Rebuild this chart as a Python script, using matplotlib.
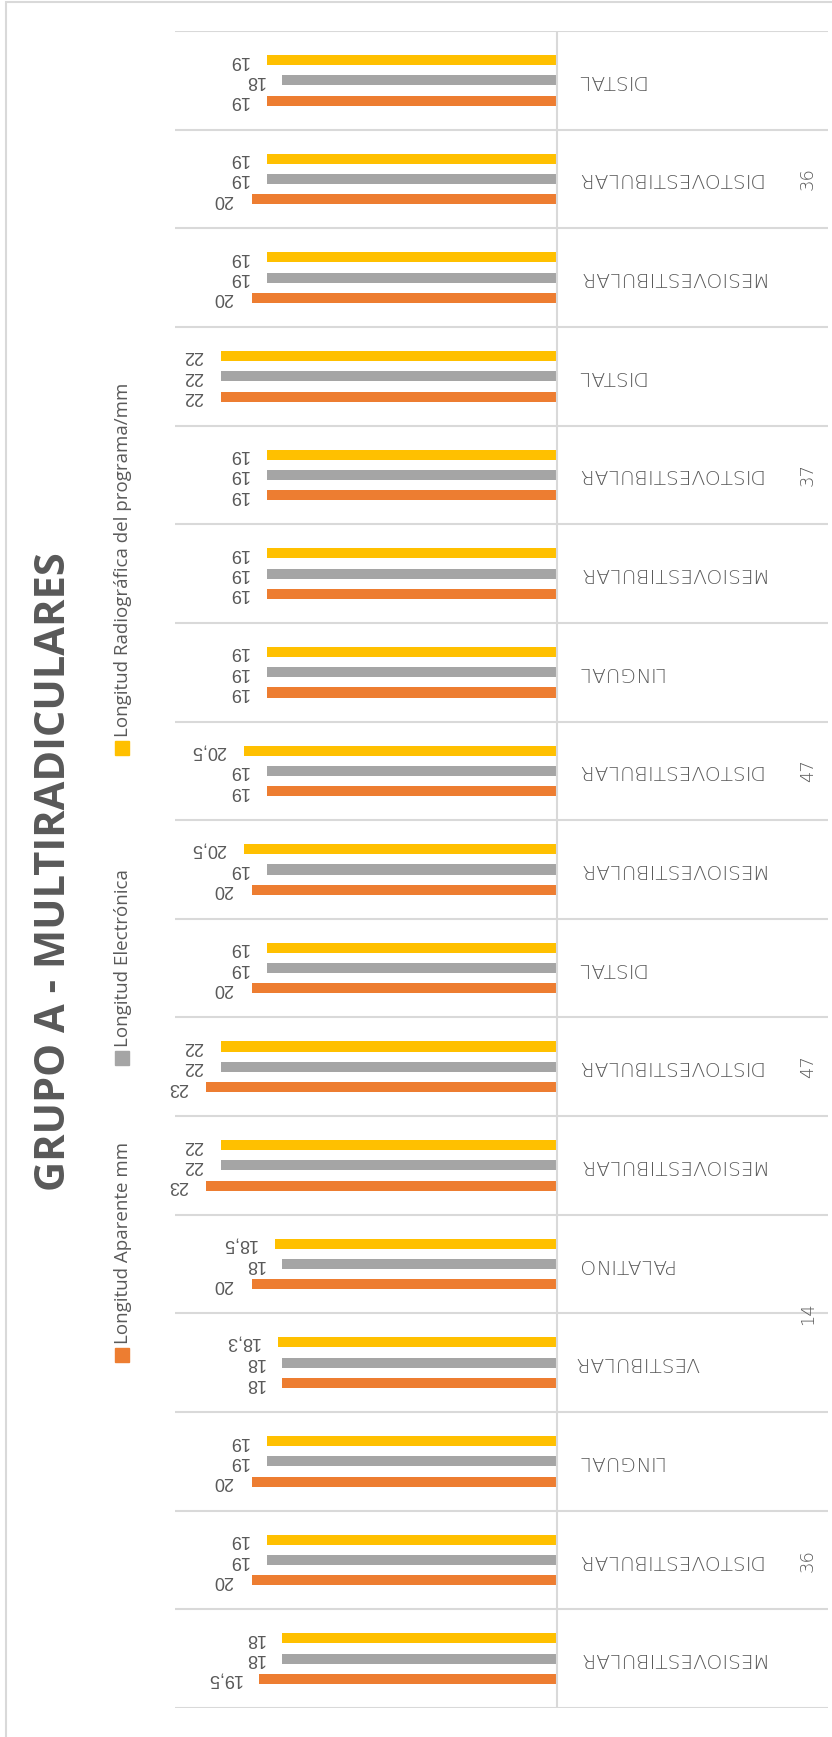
import numpy as np
import matplotlib.pyplot as plt
from matplotlib.patches import Rectangle

# data, listed bottom to top as drawn
categories = ['MESIOVESTIBULAR', 'DISTOVESTIBULAR', 'LINGUAL',
              'VESTIBULAR', 'PALATINO',
              'MESIOVESTIBULAR', 'DISTOVESTIBULAR', 'DISTAL',
              'MESIOVESTIBULAR', 'DISTOVESTIBULAR', 'LINGUAL',
              'MESIOVESTIBULAR', 'DISTOVESTIBULAR', 'DISTAL',
              'MESIOVESTIBULAR', 'DISTOVESTIBULAR', 'DISTAL']
groups = ['36', '14', '47', '47', '37', '36']
group_sizes = [3, 2, 3, 3, 3, 3]

aparente = [19.5, 20, 20, 18, 20, 23, 23, 20, 20, 19, 19, 19, 19, 22, 20, 20, 19]
electronica = [18, 19, 19, 18, 18, 22, 22, 19, 19, 19, 19, 19, 19, 22, 19, 19, 18]
radiografica = [18, 19, 19, 18.3, 18.5, 22, 22, 19, 20.5, 20.5, 19, 19, 19, 22, 19, 19, 19]

series_names = ['Longitud Aparente mm', 'Longitud Electrónica',
                'Longitud Radiográfica del programa/mm']
colors = ['#ED7D31', '#A5A5A5', '#FFC000']
title = 'GRUPO A - MULTIRADICULARES'

W, H = 832, 1737
TXT = '#595959'
GRID = '#D9D9D9'
plt.rcParams['font.family'] = ['Open Sans', 'DejaVu Sans']


def fx(x):
    return x / W


def fy(y):
    return 1 - y / H


fig = plt.figure(figsize=(W / 100, H / 100), dpi=100)

# outer chart border (only left and top edges fall inside the picture)
fig.patches.append(Rectangle((fx(6), -0.05), 1.1, fy(2) + 0.05, transform=fig.transFigure,
                             fill=False, ec=GRID, lw=1.5))

# axes: x from 175px to 828px, value 0 at 557px, 15.27 px per unit
x_left, x_zero, x_right, unit = 175, 557, 828, 15.27
top, bottom = 31, 1708
ax = fig.add_axes([fx(x_left), fy(bottom), fx(x_right - x_left), (bottom - top) / H])
ax.set_xlim((x_zero - x_left) / unit, -(x_right - x_zero) / unit)
n = len(categories)
ax.set_ylim(-0.5, n - 0.5)
ax.axis('off')

y = np.arange(n)
off = 0.206
bh = 0.102
for vals, c, d in zip([aparente, electronica, radiografica], colors, [-off, 0, off]):
    ax.barh(y + d, vals, height=bh, color=c, zorder=3)
    for yi, v in zip(y, vals):
        s = ('%g' % v).replace('.', ',')
        ax.text(v + 18 / unit, yi + d, s, rotation=180, ha='right', va='center',
                fontsize=13, color=TXT, family=['Liberation Sans', 'DejaVu Sans'])

# separators and baseline
for b in np.arange(n + 1) - 0.5:
    ax.axhline(b, color=GRID, lw=1.5, zorder=1)
ax.plot([0, 0], [-0.5, n - 0.5], color=GRID, lw=1.5, zorder=4)

# category labels, upside down
for yi, cat in zip(y, categories):
    ax.text(-(575 - x_zero) / unit, yi, cat, rotation=180, ha='left', va='center',
            fontsize=14.5, color=TXT, family=['DejaVu Sans'], fontweight='light')

# group labels
start = 0
for g, sz in zip(groups, group_sizes):
    ax.text(-(808 - x_zero) / unit, start + (sz - 1) / 2, g, rotation=90,
            ha='center', va='center', fontsize=13, color=TXT,
            family=['DejaVu Sans'], fontweight='light')
    start += sz

# title
fig.text(fx(55), fy(872), title, rotation=90, ha='center', va='center',
         fontsize=30, fontweight='bold', color=TXT)

# legend, rotated
for name, c, my in zip(series_names, colors, [1355, 1058, 748]):
    fig.patches.append(Rectangle((fx(115), fy(my + 7)), 14 / W, 14 / H,
                                 transform=fig.transFigure, color=c))
    fig.text(fx(123), fy(my - 11), name, rotation=90, ha='center', va='bottom',
             fontsize=13.5, color=TXT)

fig.savefig('out.png', dpi=100)
